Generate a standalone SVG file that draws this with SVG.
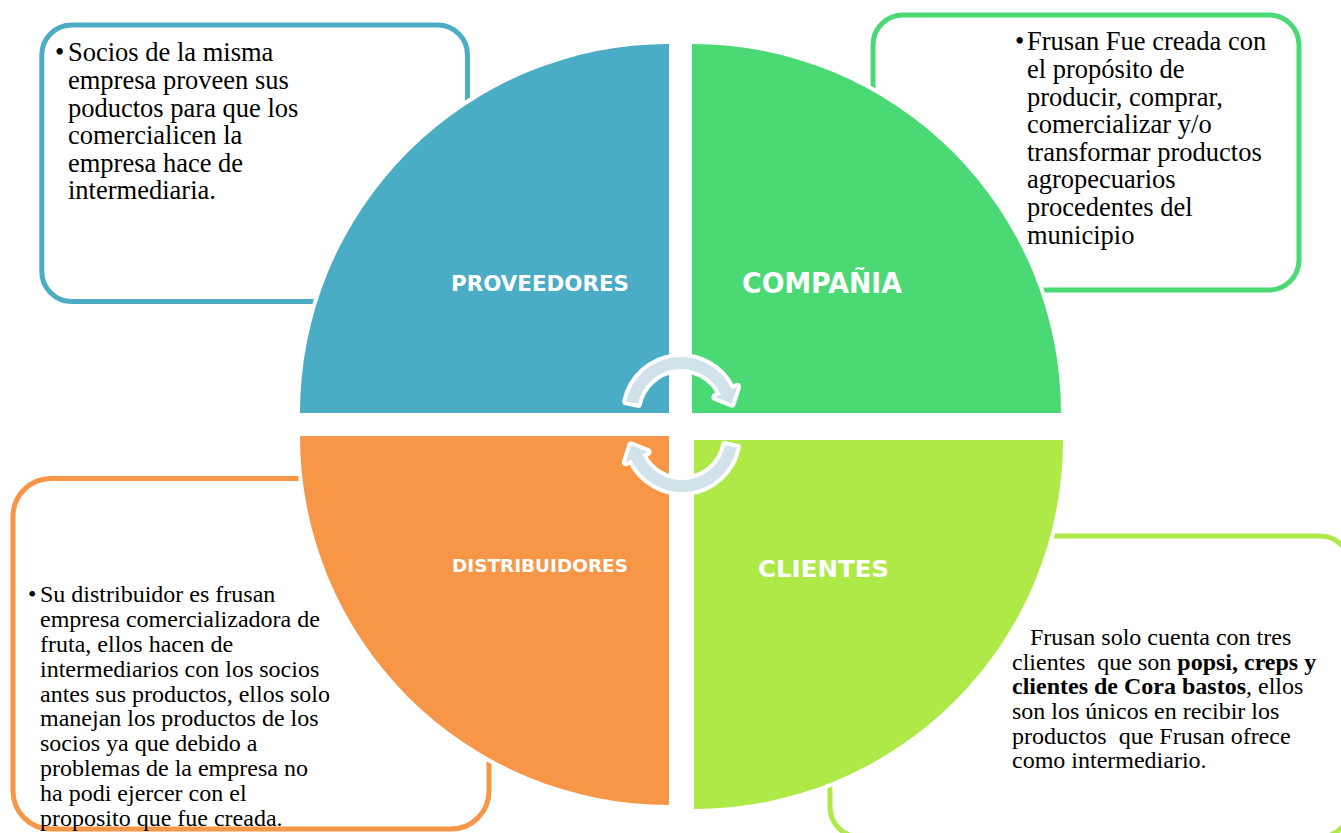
<svg xmlns="http://www.w3.org/2000/svg" width="1341" height="833" viewBox="0 0 1341 833">
  <style>
    .box { fill: #ffffff; stroke-width: 5; }
    .quad { stroke: #ffffff; stroke-width: 8; paint-order: stroke; }
    .body { font-family: "Liberation Serif", "Times New Roman", serif; fill: #000000; }
    .t26 { font-size: 26.5px; }
    .t24 { font-size: 24px; }
    .b { font-weight: bold; }
    .pre { white-space: pre; }
    .label { font-family: "DejaVu Sans", Verdana, sans-serif; font-weight: bold; fill: #ffffff; text-anchor: middle; }
    .cyc { fill: #d1e2eb; stroke: #ffffff; stroke-width: 8; stroke-linejoin: round; paint-order: stroke; }
  </style>
  <defs>
    <!-- clockwise arrow arc used twice in the centre -->
    <path id="cycleArrow" d="M626.23,401.36 A56,56 0 0 1 731.75,389.33 L737.19,386.79 L731.8,403.65 L715.44,396.94 L720.88,394.4 A44,44 0 0 0 637.96,403.85 Z"/>
  </defs>
  <rect width="1341" height="833" fill="#ffffff"/>

  <!-- description boxes sit behind the circle -->
  <g id="box-proveedores">
    <rect class="box" x="41.8" y="25" width="425.7" height="276.5" rx="30" stroke="#4bacc6"/>
  </g>
  <g id="box-compania">
    <rect class="box" x="873" y="15" width="426" height="275" rx="30" stroke="#4ad975"/>
  </g>
  <g id="box-distribuidores">
    <rect class="box" x="13" y="478.5" width="476" height="350.5" rx="38" stroke="#f79646"/>
  </g>
  <g id="box-clientes">
    <rect class="box" x="830" y="536" width="520" height="301" rx="30" stroke="#aee948"/>
  </g>

  <!-- four quarter-circle segments -->
  <g id="node-proveedores">
    <path class="quad" d="M669,413 L300,413 A369,369 0 0 1 669,44 Z" fill="#4bacc6"/>
    <text class="label" x="540" y="291" font-size="21" textLength="178" lengthAdjust="spacingAndGlyphs">PROVEEDORES</text>
  </g>
  <g id="node-compania">
    <path class="quad" d="M692,413 L692,44 A369,369 0 0 1 1061,413 Z" fill="#4ad975"/>
    <text class="label" x="822" y="293" font-size="27.5" textLength="160" lengthAdjust="spacingAndGlyphs">COMPAÑIA</text>
  </g>
  <g id="node-distribuidores">
    <path class="quad" d="M669,436 L669,805 A369,369 0 0 1 300,436 Z" fill="#f79646"/>
    <text class="label" x="540" y="572" font-size="18.3" textLength="176" lengthAdjust="spacingAndGlyphs">DISTRIBUIDORES</text>
  </g>
  <g id="node-clientes">
    <path class="quad" d="M694,440 L1063,440 A369,369 0 0 1 694,809 Z" fill="#aee948"/>
    <text class="label" x="823.5" y="577" font-size="22.8" textLength="131" lengthAdjust="spacingAndGlyphs">CLIENTES</text>
  </g>

  <!-- cycle arrows -->
  <g id="connectors">
    <use href="#cycleArrow" class="cyc"/>
    <use href="#cycleArrow" class="cyc" transform="rotate(180 681.5 424.5)"/>
  </g>

  <!-- box texts -->
  <g id="text-proveedores" class="body t26">
    <text x="55" y="61.3">•</text>
    <text x="68" y="61.3">Socios de la misma</text>
    <text x="68" y="88.9">empresa proveen sus</text>
    <text x="68" y="116.5">poductos para que los</text>
    <text x="68" y="144.1">comercialicen la</text>
    <text x="68" y="171.7">empresa hace de</text>
    <text x="68" y="199.3">intermediaria.</text>
  </g>
  <g id="text-compania" class="body t26">
    <text x="1015" y="50.3">•</text>
    <text x="1027" y="50.3">Frusan Fue creada con</text>
    <text x="1027" y="77.9">el propósito de</text>
    <text x="1027" y="105.5">producir, comprar,</text>
    <text x="1027" y="133.1">comercializar y/o</text>
    <text x="1027" y="160.7">transformar productos</text>
    <text x="1027" y="188.3">agropecuarios</text>
    <text x="1027" y="215.9">procedentes del</text>
    <text x="1027" y="243.5">municipio</text>
  </g>
  <g id="text-distribuidores" class="body t24">
    <text x="28" y="602.3">•</text>
    <text x="40" y="602.3">Su distribuidor es frusan</text>
    <text x="40" y="627.1">empresa comercializadora de</text>
    <text x="40" y="651.9">fruta, ellos hacen de</text>
    <text x="40" y="676.7">intermediarios con los socios</text>
    <text x="40" y="701.5">antes sus productos, ellos solo</text>
    <text x="40" y="726.3">manejan los productos de los</text>
    <text x="40" y="751.1">socios ya que debido a</text>
    <text x="40" y="775.9">problemas de la empresa no</text>
    <text x="40" y="800.7">ha podi ejercer con el</text>
    <text x="40" y="825.5">proposito que fue creada.</text>
  </g>
  <g id="text-clientes" class="body t24">
    <text x="1030" y="645">Frusan solo cuenta con tres</text>
    <text class="pre" x="1012" y="669.6">clientes  que son <tspan class="b">popsi, creps y</tspan></text>
    <text x="1012" y="694.3"><tspan class="b">clientes de Cora bastos</tspan>, ellos</text>
    <text x="1012" y="718.9">son los únicos en recibir los</text>
    <text class="pre" x="1012" y="743.6">productos  que Frusan ofrece</text>
    <text x="1012" y="768.2">como intermediario.</text>
  </g>
</svg>
